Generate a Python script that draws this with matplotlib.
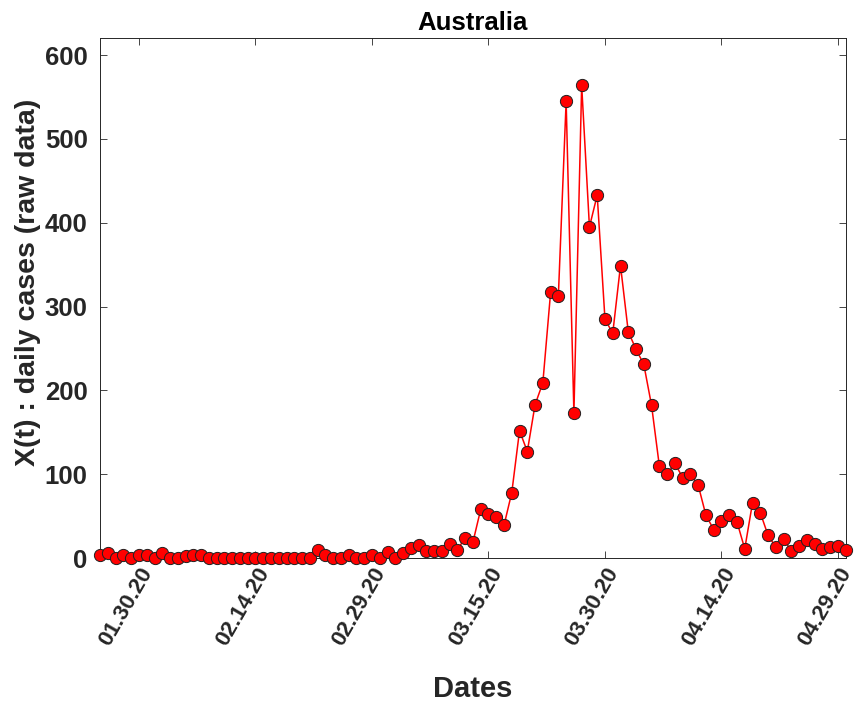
import numpy as np
import pandas as pd
import matplotlib
matplotlib.use('Agg')
import matplotlib.pyplot as plt
import matplotlib.dates as mdates

plt.rcParams['font.family'] = ['Liberation Sans', 'DejaVu Sans']

# daily cases, 25 Jan 2020 .. 30 Apr 2020
startDate = '2020-01-25'
dailyCases = [3, 6, 0, 3, 0, 4, 4, 0, 6, 0, 0, 2, 3, 3, 0,
              0, 0, 0, 0, 0, 0, 0, 0, 0, 0, 0, 0, 0,
              9, 3, 0, 0, 3, 0, 0, 4, 0, 7, 0, 6, 12, 16, 8, 8, 8, 17, 10, 24,
              19, 58, 53, 49, 39, 78, 152, 127, 183, 209, 317, 313, 545, 173, 564,
              395, 433, 285, 268, 349, 270, 249, 231, 182, 110, 100, 113, 96, 100,
              87, 51, 34, 44, 51, 43, 11, 66, 54, 27, 13, 23, 8, 14, 21, 17, 11,
              13, 14, 9]
tickDates = ['2020-01-30', '2020-02-14', '2020-02-29', '2020-03-15',
             '2020-03-30', '2020-04-14', '2020-04-29']
yTicks = [0, 100, 200, 300, 400, 500, 600]

dates = pd.date_range(startDate, periods=len(dailyCases), freq='D')
axisColor = '#262626'

fig = plt.figure(figsize=(8.56, 7.05), dpi=100)
ax = fig.add_axes([0.117, 0.2085, 0.871, 0.7375])

ax.plot(dates, dailyCases, '-', color='red', linewidth=1.1,
        marker='o', markersize=8.8, markerfacecolor='red',
        markeredgecolor='#202020', markeredgewidth=0.7, clip_on=False, zorder=3)

ax.set_xlim(dates[0], dates[-1])
ax.set_ylim(0, 1.1 * max(dailyCases))
ax.set_yticks(yTicks)
ax.set_xticks(pd.to_datetime(tickDates))
ax.xaxis.set_major_formatter(mdates.DateFormatter('%m.%d.%y'))

ax.tick_params(direction='in', length=5, width=0.6, colors=axisColor,
               top=True, right=True)
ax.tick_params(axis='y', pad=9, labelsize=18.5)
ax.tick_params(axis='x', pad=4, labelsize=16)
for lbl in ax.get_xticklabels() + ax.get_yticklabels():
    lbl.set_fontweight('bold')
    lbl.set_color(axisColor)
plt.setp(ax.get_xticklabels(), rotation=60, ha='right', rotation_mode='anchor')

for side in ax.spines.values():
    side.set_color(axisColor)
    side.set_linewidth(0.7)

ax.set_title('Australia', fontsize=18.5, fontweight='bold', color='black', pad=6)
ax.set_xlabel('Dates', fontsize=21, fontweight='bold', color=axisColor)
ax.xaxis.set_label_coords(0.5, -0.225)
ax.set_ylabel('X(t) : daily cases (raw data)', fontsize=20.5, fontweight='bold',
              color=axisColor)
ax.yaxis.set_label_coords(-0.08, 0.53)

fig.savefig('out.png', dpi=100, facecolor='w', edgecolor='w')
